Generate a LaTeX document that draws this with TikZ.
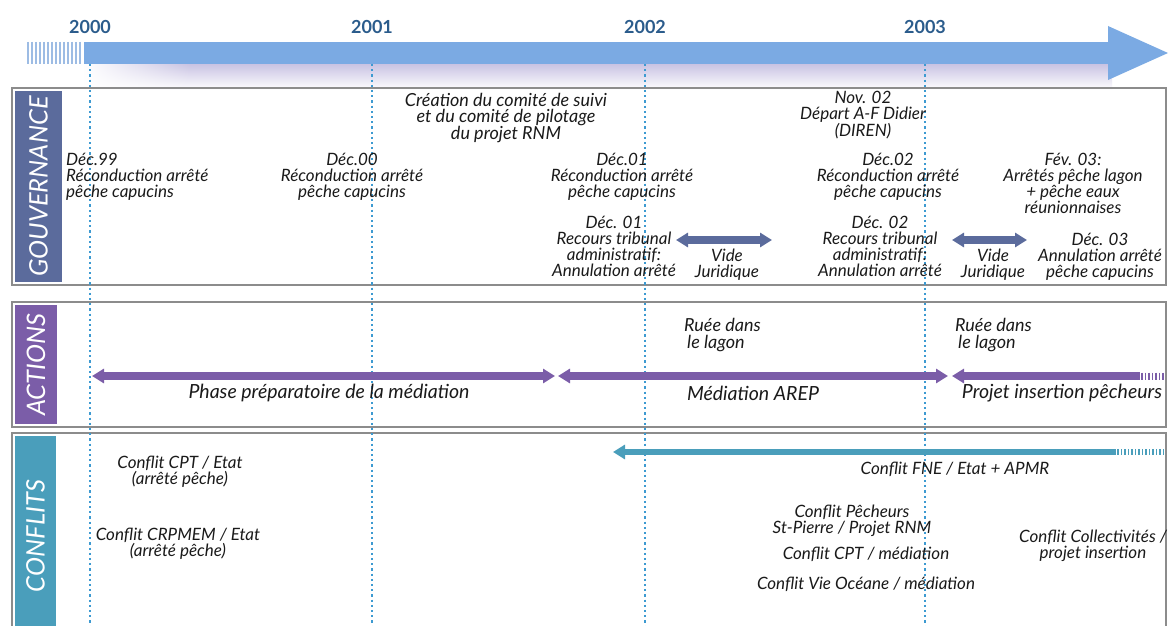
\documentclass[tikz,border=0pt]{standalone}
\usepackage{fontspec}
\setmainfont{Lato}
\usetikzlibrary{arrows.meta,fadings}
\definecolor{bandc}{HTML}{7BAAE3}
\definecolor{stripec}{HTML}{9DBCE4}
\definecolor{yearc}{HTML}{2B5C8C}
\definecolor{lav}{HTML}{C9C3E3}
\definecolor{gouvc}{HTML}{5B6B9C}
\definecolor{actc}{HTML}{7B5DA8}
\definecolor{confc}{HTML}{4A9EBB}
\definecolor{dotc}{HTML}{3D9AD1}
\definecolor{panelc}{HTML}{8C8C8C}
\definecolor{txtc}{HTML}{1A1A1A}
\begin{document}
\begin{tikzpicture}[x=1pt,y=-1pt,
 txt/.style={font=\itshape\fontsize{17}{16}\selectfont, align=center, text=txtc, inner sep=0pt},
 txtl/.style={txt, align=left},
 bigtxt/.style={txt, font=\itshape\fontsize{19.5}{18}\selectfont},
 year/.style={font=\bfseries\fontsize{18}{20}\selectfont, text=yearc, inner sep=0pt},
 panel/.style={draw=panelc, line width=2pt},
 lab/.style={rotate=90, text=white, inner sep=0pt, font=\itshape\fontsize{25.5}{27}\selectfont},
 vline/.style={dotc, line width=1.7pt, dash pattern=on 2.2pt off 3pt},
 dbl/.style={line width=7.5pt, {Triangle[length=12pt,width=14pt]}-{Triangle[length=12pt,width=14pt]}},
 lft/.style={line width=7.5pt, {Triangle[length=12pt,width=14pt]}-},
 stripe/.style={line width=1.6pt},
]
\useasboundingbox (0,0) rectangle (1168,626);
\fill[white] (0,0) rectangle (1168,626);

% ---- timeline band ----
\shade[top color=lav, bottom color=white, path fading=west] (84,64) rectangle (190,90);
\shade[top color=lav, bottom color=white] (189.5,64) rectangle (1112,90);
\fill[bandc] (84,42) rectangle (1112,64);
\fill[bandc] (1108,26) -- (1168,53) -- (1108,80) -- cycle;
\foreach \x in {28,32,...,80} \draw[stripec, line width=2.2pt] (\x,42) -- (\x,64);

\node[year] (y2000) at (90,27) {2000};
\node[year] (y2001) at (372,27) {2001};
\node[year] (y2002) at (645,27) {2002};
\node[year] (y2003) at (925,27) {2003};

% ---- panels ----
\draw[panel] (12,88) rectangle (1166,285);
\draw[panel] (12,302) rectangle (1166,427);
\draw[panel] (12,640) -- (12,433) -- (1166,433) -- (1166,640);

\node[lab, fill=gouvc, minimum width=191pt, minimum height=47pt] (gouv) at (38.5,186.5) {GOUVERNANCE};
\node[lab, fill=actc, minimum width=119pt, minimum height=42pt] (act) at (36,364.5) {ACTIONS};
\node[lab, fill=confc, minimum width=200pt, minimum height=41pt] (conf) at (35.5,536) {CONFLITS};

% ---- year guide lines ----
\foreach \n/\x in {2000/90,2001/372,2002/645,2003/925}{
  \coordinate (t\n) at (\x,64);
  \coordinate (b\n) at (\x,626);
  \draw[vline] (t\n) -- (b\n);
}

% ---- gouvernance ----
\node[txt, anchor=north, font=\itshape\fontsize{18}{16}\selectfont] (crea) at (506,93) {Création du comité de suivi\\et du comité de pilotage\\du projet RNM};
\node[txt, anchor=north] (nov) at (863,91) {Nov. 02\\Départ A-F Didier\\(DIREN)};
\node[txtl, anchor=north west] (d99) at (66,153) {Déc.99\\Réconduction arrêté\\pêche capucins};
\node[txt, anchor=north] (d00) at (352,153) {Déc.00\\Réconduction arrêté\\pêche capucins};
\node[txt, anchor=north] (d01) at (622,153) {Déc.01\\Réconduction arrêté\\pêche capucins};
\node[txt, anchor=north] (d02) at (888,153) {Déc.02\\Réconduction arrêté\\pêche capucins};
\node[txt, anchor=north] (f03) at (1073,153) {Fév. 03:\\Arrêtés pêche lagon\\+ pêche eaux\\réunionnaises};
\node[txt, anchor=north] (r01) at (614,216) {Déc. 01\\Recours tribunal\\administratif:\\Annulation arrêté};
\node[txt, anchor=north] (vj1) at (727,249) {Vide\\Juridique};
\node[txt, anchor=north] (r02) at (880,216) {Déc. 02\\Recours tribunal\\administratif:\\Annulation arrêté};
\node[txt, anchor=north] (vj2) at (993,249) {Vide\\Juridique};
\node[txt, anchor=north] (d03) at (1100,233) {Déc. 03\\Annulation arrêté\\pêche capucins};

\coordinate (v1a) at (676,240); \coordinate (v1b) at (772,240);
\coordinate (v2a) at (952,240); \coordinate (v2b) at (1027,240);
\draw[dbl, gouvc] (v1a) -- (v1b);
\draw[dbl, gouvc] (v2a) -- (v2b);

% ---- actions ----
\node[txtl, anchor=north west, font=\itshape\fontsize{18}{17}\selectfont] (ru1) at (684,318) {Ruée dans\\\hspace{3pt}le lagon};
\node[txtl, anchor=north west, font=\itshape\fontsize{18}{17}\selectfont] (ru2) at (955,318) {Ruée dans\\\hspace{3pt}le lagon};
\node[bigtxt] (phase) at (329,393) {Phase préparatoire de la médiation};
\node[bigtxt] (med) at (753,393) {Médiation AREP};
\node[bigtxt] (proj) at (1062,393) {Projet insertion pêcheurs};

\coordinate (p1a) at (92,376); \coordinate (p1b) at (555,376);
\coordinate (p2a) at (558,376); \coordinate (p2b) at (948,376);
\coordinate (p3a) at (952,376); \coordinate (p3b) at (1140,376);
\draw[dbl, actc] (p1a) -- (p1b);
\draw[dbl, actc] (p2a) -- (p2b);
\draw[lft, actc] (p3a) -- (p3b);
\foreach \x in {1142,1145.5,...,1166} \draw[actc, stripe] (\x,372.5) -- (\x,379.5);

% ---- conflits ----
\coordinate (ca) at (613,452); \coordinate (cb) at (1116,452);
\draw[lft, confc, line width=6pt] (ca) -- (cb);
\foreach \x in {1118,1121.5,...,1166} \draw[confc, stripe] (\x,449) -- (\x,455);

\node[txt] (fne) at (955,469) {Conflit FNE / Etat + APMR};
\node[txt, anchor=north] (cpt) at (180,456) {Conflit CPT / Etat\\(arrêté pêche)};
\node[txt, anchor=north] (crp) at (178,528) {Conflit CRPMEM / Etat\\(arrêté pêche)};
\node[txt, anchor=north] (pech) at (852,505) {Conflit Pêcheurs\\St-Pierre / Projet RNM};
\node[txt] (cptm) at (866,554) {Conflit CPT / médiation};
\node[txt] (vie) at (866,584) {Conflit Vie Océane / médiation};
\node[txt, anchor=north] (coll) at (1093,530) {Conflit Collectivités /\\projet insertion};
\end{tikzpicture}
\end{document}
